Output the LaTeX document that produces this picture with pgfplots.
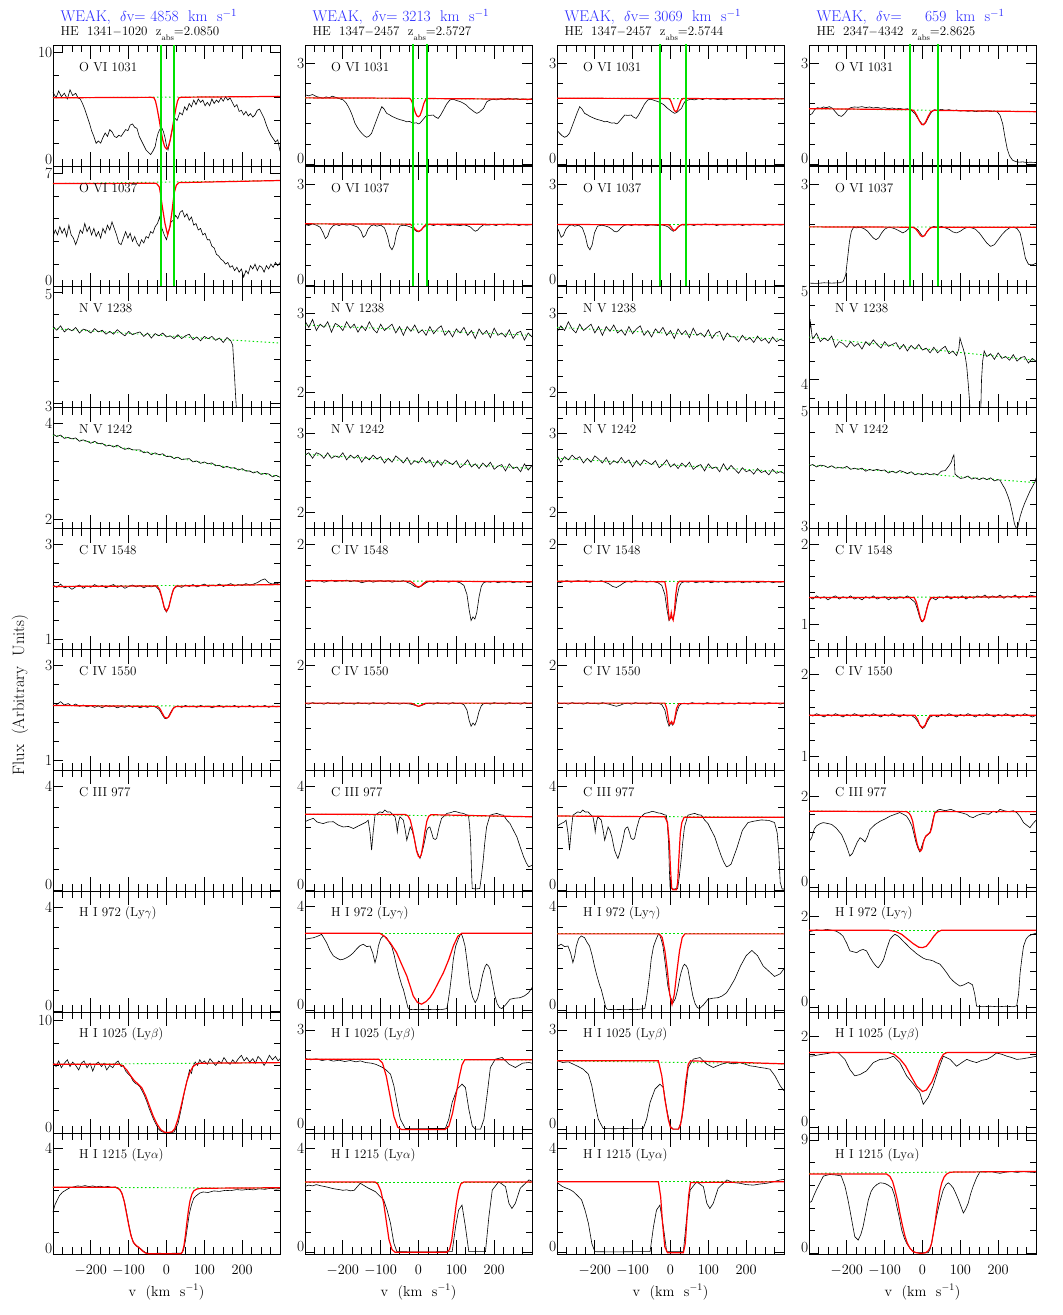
\documentclass[border=0pt]{standalone}
\usepackage{pgfplots}
\pgfplotsset{compat=1.18}
\definecolor{fitred}{RGB}{255,0,0}
\definecolor{cgreen}{RGB}{0,225,0}
\definecolor{tblue}{RGB}{40,40,255}
\newcommand{\tl}{\fontsize{15.5}{15.5}\selectfont}
\newcommand{\lab}[1]{\node[anchor=west,font=\fontsize{13}{13}\selectfont] at (rel axis cs:0.1,0.82) {#1};}
\pgfplotsset{
 pan/.style={scale only axis, width=227pt, height=120.9pt, anchor=south west,
   xmin=-300, xmax=300, xtick={-200,-100,0,100,200},
   minor xtick={-275,-250,-225,-175,-150,-125,-75,-50,-25,25,50,75,125,150,175,225,250,275},
   xticklabels={}, tick align=inside,
   axis line style={line width=0.8pt},
   tick style={black, line width=0.7pt},
   xtick style={/pgfplots/major tick length=14pt, /pgfplots/minor tick length=7pt},
   ytick style={/pgfplots/major tick length=10pt, /pgfplots/minor tick length=6pt},
   yticklabel style={font=\tl, inner sep=0.5pt},
   xticklabel style={font=\tl, yshift=-8pt},
 },
 bs/.style={extra y tick style={yticklabel style={yshift=6pt}}},
 spec/.style={black, line width=0.6pt, mark=none},
 fit/.style={fitred, line width=1.2pt, mark=none},
 cont/.style={cgreen, line width=0.9pt, dash pattern=on 1.5pt off 2.5pt, mark=none},
 vl/.style={cgreen, line width=1.7pt, mark=none},
 bot/.style={xticklabels={$-200$,$-100$,$0$,$100$,$200$}},
}
\newcommand{\ttl}[3]{\node[anchor=west,text=tblue,font=\fontsize{15.5}{15.5}\selectfont] at (#1pt,-16.7pt) {WEAK,\ \ $\delta$v=\ #2\ \ km\ \ s$^{-1}$};
\node[anchor=west,font=\fontsize{13}{13}\selectfont] at (#1pt,-33.3pt) {#3};}
\begin{document}
\begin{tikzpicture}
\useasboundingbox (0,0) rectangle (1063pt,-1315pt);
% titles
\ttl{57}{4858}{HE\ \ 1341$-$1020\ \ z\raisebox{-5pt}{\fontsize{8}{8}\selectfont abs}=2.0850}
\ttl{309}{3213}{HE\ \ 1347$-$2457\ \ z\raisebox{-5pt}{\fontsize{8}{8}\selectfont abs}=2.5727}
\ttl{561}{3069}{HE\ \ 1347$-$2457\ \ z\raisebox{-5pt}{\fontsize{8}{8}\selectfont abs}=2.5744}
\ttl{813}{\ \ \ \ 659}{HE\ \ 2347$-$4342\ \ z\raisebox{-5pt}{\fontsize{8}{8}\selectfont abs}=2.8625}
\node[rotate=90,font=\fontsize{16.5}{16.5}\selectfont] at (20pt,-695pt) {Flux\ \ (Arbitrary\ \ Units)};
\foreach \xc in {166.5,418.5,670.5,922.5}{\node[font=\fontsize{14.5}{14.5}\selectfont] at (\xc pt,-1292pt) {v\ \ (km\ \ s$^{-1}$)};}

%%%%%%%%%%%%%%%%%%%% COLUMN 1 %%%%%%%%%%%%%%%%%%%%
\begin{axis}[pan, at={(53pt,-165.9pt)}, bs, ymin=0, ymax=10.65, ytick={10}, yticklabels={10}, minor ytick={2,4,6,8}, extra y ticks={0}, extra y tick labels={0}]
\addplot[cont] coordinates {(-300,6.0)(300,6.12)};
\addplot[spec] coordinates {(-300,6.5)(-292,6.0)(-285,6.6)(-278,6.1)(-270,6.4)(-262,5.9)(-255,6.7)(-248,6.2)(-240,6.4)(-234,6.0)(-228,5.9)(-222,5.5)(-216,5.0)(-210,4.4)(-204,3.8)(-198,3.1)(-192,2.6)(-186,2.0)(-180,2.2)(-174,2.0)(-168,2.5)(-162,2.9)(-156,2.6)(-150,3.2)(-144,3.0)(-138,2.6)(-132,2.5)(-126,2.7)(-120,2.6)(-114,2.9)(-108,3.2)(-102,3.1)(-96,3.6)(-90,3.7)(-84,3.4)(-78,3.3)(-72,2.6)(-66,2.2)(-60,1.8)(-54,1.4)(-48,1.2)(-42,1.0)(-36,1.3)(-30,1.7)(-26,2.4)(-22,2.9)(-18,3.2)(-13,3.4)(-8,3.0)(-4,2.5)(0,1.8)(4,1.4)(8,2.0)(13,2.9)(18,3.6)(22,4.2)(28,4.0)(35,4.7)(42,4.5)(48,5.2)(54,4.9)(60,5.5)(66,5.2)(72,5.8)(78,5.4)(84,5.9)(90,5.6)(96,5.8)(102,5.3)(108,5.6)(114,5.3)(120,5.9)(126,5.5)(132,5.8)(138,5.6)(144,6.0)(150,5.7)(156,6.1)(162,5.8)(168,6.0)(174,5.6)(180,5.2)(186,5.4)(192,4.8)(198,4.9)(204,4.5)(210,4.8)(216,4.4)(222,4.6)(228,4.3)(234,4.5)(240,4.9)(246,5.0)(252,4.6)(258,4.2)(264,3.6)(270,3.1)(276,2.7)(282,2.4)(288,2.1)(294,2.3)(300,1.3)};
\addplot[fit] coordinates {(-300,6.0)(-40,6.04)(-33,6.0)(-29,5.7)(-25,5.1)(-20,4.2)(-15,3.2)(-10,2.3)(-5,1.7)(0,1.5)(5,1.7)(10,2.3)(15,3.2)(20,4.2)(25,5.1)(29,5.7)(33,6.0)(40,6.05)(300,6.12)};
\addplot[vl] coordinates {(-15,-5)(-15,20)};
\addplot[vl] coordinates {(19,-5)(19,20)};
\lab{O VI 1031}
\end{axis}

\begin{axis}[pan, at={(53pt,-286.8pt)}, bs, ymin=0, ymax=7.45, ytick={7}, yticklabels={7}, minor ytick={1.4,2.8,4.2,5.6}, extra y ticks={0}, extra y tick labels={0}]
\addplot[cont] coordinates {(-300,6.36)(300,6.55)};
\addplot[spec] coordinates {(-300,3.1)(-294,3.5)(-288,3.2)(-282,3.7)(-276,3.3)(-270,3.6)(-264,3.1)(-258,3.8)(-252,3.2)(-246,3.0)(-240,2.6)(-234,3.0)(-228,3.5)(-222,3.3)(-216,3.9)(-210,3.4)(-204,3.7)(-198,3.2)(-192,3.6)(-186,3.1)(-180,3.4)(-174,3.0)(-168,3.6)(-162,3.3)(-156,3.8)(-150,3.5)(-144,4.0)(-138,3.6)(-132,3.2)(-126,2.7)(-120,2.6)(-114,3.0)(-108,3.4)(-102,3.0)(-96,3.3)(-90,2.8)(-84,3.1)(-78,2.7)(-72,2.5)(-66,2.9)(-60,2.7)(-54,3.1)(-48,3.0)(-42,3.4)(-36,3.3)(-30,3.7)(-24,3.9)(-18,4.3)(-12,3.6)(-6,3.2)(0,2.9)(4,3.3)(8,3.6)(12,4.0)(18,4.1)(24,4.4)(30,4.2)(36,4.6)(42,4.7)(48,4.3)(54,4.5)(60,4.1)(66,4.3)(72,3.8)(78,3.9)(84,3.5)(90,3.6)(96,3.2)(102,3.3)(108,2.9)(114,2.9)(120,2.5)(126,2.4)(132,2.0)(138,1.9)(144,1.7)(150,1.6)(156,1.4)(162,1.5)(168,1.2)(174,1.3)(180,1.0)(186,1.2)(192,0.9)(198,1.1)(204,0.6)(210,1.0)(216,0.8)(222,1.3)(228,1.1)(234,1.4)(240,1.0)(246,1.3)(252,1.2)(258,0.9)(264,1.3)(270,1.1)(276,1.4)(282,1.2)(288,1.5)(294,1.3)(300,1.5)};
\addplot[fit] coordinates {(-300,6.36)(-30,6.38)(-26,6.36)(-19,6.15)(-16,5.75)(-11,4.93)(-4,3.9)(3,3.2)(9,3.7)(15,4.72)(20,5.75)(26,6.26)(33,6.42)(300,6.55)};
\addplot[vl] coordinates {(-15,-5)(-15,20)};
\addplot[vl] coordinates {(19,-5)(19,20)};
\lab{O VI 1037}
\end{axis}

\begin{axis}[pan, at={(53pt,-407.7pt)}, ymin=2.93, ymax=5.1, ytick={5}, yticklabels={5}, yticklabel style={yshift=-2.5pt}, minor ytick={3.4,3.8,4.2,4.6}, extra y ticks={3}, extra y tick labels={3}]
\addplot[cont] coordinates {(-300,4.35)(300,4.09)};
\addplot[spec] coordinates {(-300,4.39)(-290,4.32)(-280,4.40)(-270,4.29)(-260,4.35)(-250,4.31)(-240,4.37)(-230,4.27)(-220,4.34)(-210,4.32)(-200,4.27)(-190,4.35)(-180,4.29)(-170,4.32)(-160,4.25)(-150,4.30)(-140,4.25)(-130,4.33)(-120,4.27)(-110,4.22)(-100,4.30)(-90,4.24)(-80,4.27)(-70,4.29)(-60,4.21)(-50,4.27)(-40,4.18)(-30,4.26)(-20,4.22)(-10,4.27)(0,4.20)(10,4.22)(20,4.17)(30,4.24)(40,4.17)(50,4.22)(60,4.25)(70,4.15)(80,4.20)(90,4.13)(100,4.21)(110,4.17)(120,4.21)(130,4.14)(140,4.18)(150,4.10)(160,4.19)(170,4.13)(175,4.05)(179,3.6)(183,3.1)(187,2.7)(300,2.6)};
\lab{N V 1238}
\end{axis}

\begin{axis}[pan, at={(53pt,-528.6pt)}, ymin=1.8, ymax=4.32, ytick={4}, yticklabels={4}, minor ytick={2.4,2.8,3.2,3.6}, extra y ticks={2}, extra y tick labels={2}]
\addplot[cont] coordinates {(-300,3.75)(300,2.88)};
\addplot[spec] coordinates {(-300,3.77)(-290,3.72)(-280,3.75)(-270,3.68)(-260,3.70)(-250,3.67)(-240,3.69)(-230,3.62)(-220,3.65)(-210,3.62)(-200,3.58)(-190,3.62)(-180,3.57)(-170,3.58)(-160,3.52)(-150,3.54)(-140,3.50)(-130,3.54)(-120,3.49)(-110,3.45)(-100,3.48)(-90,3.44)(-80,3.44)(-70,3.44)(-60,3.38)(-50,3.40)(-40,3.34)(-30,3.38)(-20,3.34)(-10,3.36)(0,3.30)(10,3.31)(20,3.26)(30,3.29)(40,3.24)(50,3.25)(60,3.26)(70,3.19)(80,3.21)(90,3.16)(100,3.19)(110,3.15)(120,3.17)(130,3.11)(140,3.12)(150,3.07)(160,3.10)(170,3.06)(180,3.07)(190,3.02)(200,3.05)(210,3.00)(220,3.00)(230,2.96)(240,2.99)(250,2.93)(260,2.95)(270,2.94)(280,2.88)(290,2.91)(300,2.87)};
\lab{N V 1242}
\end{axis}

\begin{axis}[pan, at={(53pt,-649.5pt)}, ymin=0.79, ymax=3.34, ytick={3}, yticklabels={3}, minor ytick={1.4,1.8,2.2,2.6}, extra y ticks={1}, extra y tick labels={1}]
\addplot[cont] coordinates {(-300,2.12)(300,2.16)};
\addplot[spec] coordinates {(-300,2.15)(-290,2.10)(-280,2.17)(-270,2.09)(-260,2.12)(-250,2.06)(-240,2.11)(-230,2.15)(-220,2.08)(-210,2.13)(-200,2.10)(-190,2.16)(-180,2.11)(-170,2.14)(-160,2.09)(-150,2.13)(-140,2.16)(-130,2.10)(-120,2.14)(-110,2.08)(-100,2.12)(-90,2.15)(-80,2.11)(-70,2.14)(-60,2.09)(-50,2.13)(-40,2.11)(-30,2.14)(-20,2.05)(-15,1.95)(-10,1.80)(-5,1.64)(0,1.58)(5,1.66)(10,1.82)(15,1.98)(20,2.08)(30,2.13)(40,2.10)(50,2.15)(60,2.12)(70,2.16)(80,2.11)(90,2.14)(100,2.17)(110,2.12)(120,2.15)(130,2.13)(140,2.17)(150,2.12)(160,2.15)(170,2.18)(180,2.13)(190,2.16)(200,2.14)(210,2.18)(220,2.15)(230,2.17)(240,2.20)(250,2.25)(260,2.28)(270,2.20)(280,2.17)(290,2.19)(300,2.16)};
\addplot[fit] coordinates {(-300,2.12)(-25,2.13)(-18,2.05)(-12,1.88)(-6,1.68)(0,1.6)(6,1.68)(12,1.88)(18,2.05)(25,2.13)(300,2.16)};
\lab{C IV 1548}
\end{axis}

\begin{axis}[pan, at={(53pt,-770.4pt)}, ymin=0.79, ymax=3.34, ytick={3}, yticklabels={3}, minor ytick={1.4,1.8,2.2,2.6}, extra y ticks={1}, extra y tick labels={1}]
\addplot[cont] coordinates {(-300,2.16)(300,2.14)};
\addplot[spec] coordinates {(-300,2.22)(-290,2.18)(-280,2.24)(-270,2.17)(-260,2.20)(-250,2.15)(-240,2.19)(-230,2.14)(-220,2.17)(-210,2.13)(-200,2.16)(-190,2.12)(-180,2.15)(-170,2.11)(-160,2.16)(-150,2.13)(-140,2.15)(-130,2.11)(-120,2.14)(-110,2.12)(-100,2.16)(-90,2.12)(-80,2.15)(-70,2.11)(-60,2.14)(-50,2.12)(-40,2.15)(-30,2.13)(-20,2.08)(-15,2.02)(-10,1.95)(-5,1.89)(0,1.88)(5,1.92)(10,2.0)(15,2.07)(20,2.12)(30,2.15)(40,2.12)(50,2.16)(60,2.13)(70,2.15)(80,2.12)(90,2.16)(100,2.13)(110,2.15)(120,2.11)(130,2.14)(140,2.16)(150,2.12)(160,2.15)(170,2.13)(180,2.16)(190,2.12)(200,2.15)(210,2.13)(220,2.16)(230,2.12)(240,2.15)(250,2.13)(260,2.16)(270,2.12)(280,2.15)(290,2.13)(300,2.14)};
\addplot[fit] coordinates {(-300,2.16)(-25,2.14)(-18,2.1)(-12,2.01)(-6,1.92)(0,1.89)(6,1.92)(12,2.01)(18,2.1)(25,2.14)(300,2.14)};
\lab{C IV 1550}
\end{axis}

\begin{axis}[pan, at={(53pt,-891.3pt)}, bs, ymin=-0.04, ymax=4.6, ytick={4}, yticklabels={4}, minor ytick={0.8,1.6,2.4,3.2}, extra y ticks={0}, extra y tick labels={0}]
\addplot[draw=none] coordinates {(0,1)};
\lab{C III 977}
\end{axis}

\begin{axis}[pan, at={(53pt,-1012.2pt)}, bs, ymin=-0.04, ymax=4.6, ytick={4}, yticklabels={4}, minor ytick={0.8,1.6,2.4,3.2}, extra y ticks={0}, extra y tick labels={0}]
\addplot[draw=none] coordinates {(0,1)};
\lab{H I 972 (Ly$\gamma$)}
\end{axis}

\begin{axis}[pan, at={(53pt,-1133.1pt)}, bs, ymin=0, ymax=10.72, ytick={10}, yticklabels={10}, minor ytick={2,4,6,8}, extra y ticks={0}, extra y tick labels={0}]
\addplot[cont] coordinates {(-300,6.1)(300,6.25)};
\addplot[spec] coordinates {(-300,6.3)(-292,5.9)(-285,6.4)(-278,5.8)(-270,6.2)(-262,6.5)(-255,5.9)(-248,6.3)(-240,6.0)(-232,5.6)(-225,6.2)(-218,6.4)(-210,5.8)(-202,6.2)(-195,5.5)(-188,6.1)(-180,6.3)(-172,5.9)(-165,6.2)(-158,5.6)(-150,6.0)(-142,5.8)(-135,6.2)(-128,6.4)(-120,5.9)(-114,6.0)(-108,5.5)(-100,5.2)(-94,5.0)(-88,4.6)(-82,4.4)(-76,4.3)(-70,4.1)(-64,3.7)(-58,3.3)(-52,2.8)(-46,2.2)(-40,1.7)(-34,1.2)(-28,0.8)(-22,0.4)(-16,0.2)(-10,0.1)(-4,0.05)(2,0.05)(8,0.05)(14,0.05)(20,0.1)(26,0.5)(31,0.9)(36,1.7)(41,2.5)(46,3.4)(51,4.2)(56,4.9)(61,5.6)(66,5.3)(70,5.9)(76,6.3)(82,6.0)(88,6.5)(94,6.2)(100,6.4)(108,6.1)(115,6.6)(122,6.3)(130,6.0)(138,6.4)(145,6.2)(152,6.7)(160,6.3)(168,6.1)(175,6.5)(182,6.2)(190,6.6)(198,6.9)(205,6.4)(212,6.7)(220,6.3)(228,6.6)(235,6.2)(242,6.8)(250,6.5)(258,6.0)(265,6.4)(272,6.9)(280,6.5)(288,6.8)(295,6.4)(300,6.6)};
\addplot[fit] coordinates {(-300,6.1)(-125,6.1)(-115,5.95)(-105,5.6)(-95,5.1)(-85,4.65)(-75,4.35)(-65,4.0)(-55,3.3)(-45,2.4)(-35,1.5)(-25,0.8)(-15,0.3)(-5,0.08)(5,0.05)(15,0.12)(22,0.4)(30,1.2)(38,2.3)(46,3.5)(54,4.6)(62,5.4)(70,5.9)(80,6.15)(90,6.2)(300,6.25)};
\lab{H I 1025 (Ly$\beta$)}
\end{axis}

\begin{axis}[pan, bot, at={(53pt,-1254pt)}, bs, ymin=0, ymax=4.56, ytick={4}, yticklabels={4}, minor ytick={0.8,1.6,2.4,3.2}, extra y ticks={0}, extra y tick labels={0}]
\addplot[cont] coordinates {(-300,2.52)(300,2.48)};
\addplot[spec] coordinates {(-300,1.57)(-295,1.85)(-290,2.0)(-283,2.2)(-275,2.33)(-265,2.42)(-255,2.50)(-245,2.53)(-235,2.57)(-225,2.55)(-215,2.58)(-205,2.54)(-195,2.57)(-185,2.53)(-175,2.56)(-165,2.52)(-155,2.55)(-145,2.51)(-135,2.53)(-128,2.47)(-122,2.42)(-116,2.2)(-110,1.9)(-104,1.45)(-98,0.99)(-92,0.62)(-86,0.4)(-80,0.3)(-74,0.25)(-68,0.2)(-62,0.12)(-56,0.06)(-50,0.03)(-40,0.02)(-20,0.03)(0,0.02)(20,0.03)(40,0.03)(45,0.15)(50,0.5)(55,1.0)(60,1.5)(66,1.85)(72,2.1)(79,2.2)(88,2.3)(97,2.34)(110,2.32)(125,2.38)(140,2.36)(155,2.40)(170,2.39)(185,2.43)(200,2.41)(215,2.44)(230,2.42)(245,2.46)(260,2.44)(275,2.48)(290,2.45)(300,2.47)};
\addplot[fit] coordinates {(-300,2.52)(-135,2.52)(-125,2.45)(-118,2.3)(-112,2.0)(-106,1.55)(-100,1.1)(-94,0.7)(-88,0.45)(-80,0.32)(-72,0.24)(-64,0.12)(-56,0.04)(-48,0.01)(38,0.01)(42,0.08)(46,0.3)(50,0.7)(54,1.2)(58,1.65)(62,2.0)(67,2.25)(72,2.38)(80,2.45)(92,2.48)(300,2.5)};
\lab{H I 1215 (Ly$\alpha$)}
\end{axis}

%%%%%%%%%%%%%%%%%%%% COLUMN 2 %%%%%%%%%%%%%%%%%%%%
\begin{axis}[pan, at={(305pt,-165.9pt)}, bs, ymin=-0.05, ymax=3.54, ytick={3}, yticklabels={3}, minor ytick={0.6,1.2,1.8,2.4}, extra y ticks={0}, extra y tick labels={0}]
\addplot[cont] coordinates {(-300,1.97)(300,1.93)};
\addplot[spec] coordinates {(-300,2.06)(-290,2.03)(-280,2.07)(-270,2.01)(-260,1.98)(-252,1.96)(-244,2.0)(-236,1.97)(-228,2.02)(-220,1.99)(-212,1.96)(-205,1.93)(-199,1.91)(-192,1.83)(-186,1.72)(-181,1.61)(-175,1.45)(-168,1.22)(-162,1.1)(-156,1.0)(-150,0.92)(-144,0.85)(-137,0.8)(-130,0.84)(-124,0.92)(-118,1.1)(-111,1.31)(-104,1.52)(-97,1.71)(-91,1.64)(-84,1.51)(-77,1.47)(-70,1.42)(-64,1.39)(-58,1.36)(-51,1.33)(-44,1.31)(-38,1.29)(-31,1.26)(-24,1.27)(-18,1.24)(-12,1.22)(-6,1.23)(0,1.2)(4,1.22)(10,1.3)(16,1.38)(22,1.46)(30,1.45)(39,1.46)(45,1.4)(52,1.36)(58,1.45)(66,1.61)(74,1.78)(83,1.91)(92,1.93)(101,1.89)(110,1.86)(119,1.81)(126,1.76)(133,1.68)(141,1.61)(148,1.55)(154,1.51)(160,1.54)(166,1.6)(172,1.66)(177,1.78)(181,1.86)(188,1.9)(196,1.93)(207,1.91)(218,1.95)(228,1.92)(238,1.96)(248,1.93)(258,1.95)(268,1.92)(278,1.94)(288,1.91)(300,1.95)};
\addplot[fit] coordinates {(-300,1.97)(-24,1.96)(-19,1.9)(-14,1.75)(-9,1.55)(-4,1.43)(0,1.41)(4,1.45)(9,1.6)(14,1.8)(19,1.92)(24,1.95)(300,1.93)};
\addplot[vl] coordinates {(-14,-5)(-14,20)};
\addplot[vl] coordinates {(22,-5)(22,20)};
\lab{O VI 1031}
\end{axis}

\begin{axis}[pan, at={(305pt,-286.8pt)}, bs, ymin=-0.05, ymax=3.54, ytick={3}, yticklabels={3}, minor ytick={0.6,1.2,1.8,2.4}, extra y ticks={0}, extra y tick labels={0}]
\addplot[cont] coordinates {(-300,1.82)(300,1.80)};
\addplot[spec] coordinates {(-300,1.80)(-290,1.77)(-280,1.82)(-270,1.78)(-260,1.72)(-252,1.55)(-246,1.38)(-240,1.45)(-234,1.65)(-226,1.76)(-218,1.80)(-210,1.77)(-200,1.81)(-190,1.78)(-180,1.80)(-170,1.76)(-160,1.72)(-152,1.60)(-146,1.42)(-140,1.48)(-134,1.65)(-126,1.76)(-118,1.79)(-110,1.75)(-100,1.78)(-90,1.70)(-82,1.45)(-76,1.15)(-70,1.05)(-64,1.2)(-58,1.55)(-50,1.75)(-40,1.78)(-30,1.76)(-20,1.72)(-12,1.66)(-6,1.6)(0,1.58)(6,1.62)(12,1.7)(20,1.77)(30,1.80)(40,1.77)(50,1.81)(60,1.78)(70,1.80)(80,1.76)(90,1.79)(100,1.78)(110,1.77)(120,1.79)(130,1.76)(138,1.72)(145,1.64)(150,1.6)(156,1.63)(163,1.72)(172,1.79)(185,1.78)(195,1.80)(205,1.77)(215,1.81)(225,1.78)(235,1.82)(245,1.79)(255,1.81)(265,1.77)(275,1.80)(285,1.78)(300,1.80)};
\addplot[fit] coordinates {(-300,1.82)(-22,1.81)(-15,1.75)(-9,1.66)(-3,1.61)(2,1.6)(8,1.65)(14,1.74)(20,1.8)(26,1.81)(300,1.80)};
\addplot[vl] coordinates {(-14,-5)(-14,20)};
\addplot[vl] coordinates {(22,-5)(22,20)};
\lab{O VI 1037}
\end{axis}

\begin{axis}[pan, at={(305pt,-407.7pt)}, ymin=1.81, ymax=3.33, ytick={3}, yticklabels={3}, minor ytick={2.2,2.4,2.6,2.8,3.2}, extra y ticks={2}, extra y tick labels={2}]
\addplot[cont] coordinates {(-300,2.85)(300,2.72)};
\addplot[spec] coordinates {(-300,2.90)(-290,2.82)(-280,2.92)(-270,2.78)(-260,2.86)(-250,2.82)(-240,2.89)(-230,2.76)(-220,2.87)(-210,2.84)(-200,2.78)(-190,2.89)(-180,2.81)(-170,2.86)(-160,2.76)(-150,2.84)(-140,2.78)(-130,2.89)(-120,2.80)(-110,2.75)(-100,2.86)(-90,2.78)(-80,2.82)(-70,2.86)(-60,2.75)(-50,2.83)(-40,2.72)(-30,2.83)(-20,2.77)(-10,2.85)(0,2.75)(10,2.79)(20,2.72)(30,2.83)(40,2.74)(50,2.80)(60,2.84)(70,2.72)(80,2.78)(90,2.70)(100,2.80)(110,2.75)(120,2.82)(130,2.72)(140,2.78)(150,2.68)(160,2.80)(170,2.73)(180,2.78)(190,2.69)(200,2.81)(210,2.72)(220,2.75)(230,2.70)(240,2.79)(250,2.68)(260,2.75)(270,2.77)(280,2.66)(290,2.75)(300,2.70)};
\lab{N V 1238}
\end{axis}

\begin{axis}[pan, at={(305pt,-528.6pt)}, ymin=1.8, ymax=3.33, ytick={3}, yticklabels={3}, minor ytick={2.2,2.4,2.6,2.8,3.2}, extra y ticks={2}, extra y tick labels={2}]
\addplot[cont] coordinates {(-300,2.74)(300,2.56)};
\addplot[spec] coordinates {(-300,2.73)(-290,2.76)(-280,2.69)(-270,2.76)(-260,2.74)(-250,2.69)(-240,2.76)(-230,2.69)(-220,2.72)(-210,2.70)(-200,2.76)(-190,2.67)(-180,2.73)(-170,2.69)(-160,2.73)(-150,2.64)(-140,2.71)(-130,2.67)(-120,2.73)(-110,2.68)(-100,2.71)(-90,2.63)(-80,2.69)(-70,2.64)(-60,2.72)(-50,2.68)(-40,2.63)(-30,2.70)(-20,2.61)(-10,2.66)(0,2.63)(10,2.70)(20,2.63)(30,2.67)(40,2.58)(50,2.66)(60,2.60)(70,2.67)(80,2.64)(90,2.61)(100,2.66)(110,2.57)(120,2.61)(130,2.67)(140,2.58)(150,2.62)(160,2.56)(170,2.63)(180,2.58)(190,2.64)(200,2.55)(210,2.59)(220,2.61)(230,2.53)(240,2.62)(250,2.56)(260,2.58)(270,2.52)(280,2.62)(290,2.54)(300,2.60)};
\lab{N V 1242}
\end{axis}

\begin{axis}[pan, at={(305pt,-649.5pt)}, ymin=0, ymax=2.3, ytick={2}, yticklabels={2}, minor ytick={0.4,0.8,1.2,1.6}]
\addplot[cont] coordinates {(-300,1.31)(300,1.29)};
\addplot[spec] coordinates {(-300,1.31)(-290,1.29)(-280,1.32)(-270,1.30)(-260,1.31)(-250,1.28)(-240,1.30)(-230,1.32)(-220,1.29)(-210,1.31)(-200,1.30)(-190,1.32)(-180,1.29)(-170,1.31)(-160,1.30)(-150,1.27)(-140,1.29)(-130,1.31)(-120,1.28)(-110,1.30)(-100,1.31)(-90,1.29)(-80,1.31)(-70,1.28)(-60,1.30)(-50,1.29)(-40,1.31)(-30,1.28)(-20,1.25)(-10,1.2)(0,1.18)(10,1.22)(20,1.27)(30,1.30)(40,1.28)(50,1.31)(60,1.29)(70,1.30)(80,1.28)(90,1.30)(100,1.29)(110,1.27)(120,1.22)(128,1.05)(134,0.75)(139,0.55)(144,0.62)(149,0.58)(154,0.7)(160,1.0)(166,1.2)(172,1.27)(180,1.29)(190,1.28)(200,1.30)(210,1.27)(220,1.29)(230,1.28)(240,1.30)(250,1.27)(260,1.29)(270,1.28)(280,1.30)(290,1.27)(300,1.29)};
\addplot[fit] coordinates {(-300,1.31)(-22,1.3)(-14,1.26)(-7,1.21)(0,1.19)(7,1.21)(14,1.26)(22,1.3)(300,1.29)};
\lab{C IV 1548}
\end{axis}

\begin{axis}[pan, at={(305pt,-770.4pt)}, ymin=0, ymax=2.3, ytick={2}, yticklabels={2}, minor ytick={0.4,0.8,1.2,1.6}]
\addplot[cont] coordinates {(-300,1.28)(300,1.28)};
\addplot[spec] coordinates {(-300,1.28)(-290,1.26)(-280,1.29)(-270,1.27)(-260,1.28)(-250,1.26)(-240,1.29)(-230,1.27)(-220,1.28)(-210,1.26)(-200,1.29)(-190,1.27)(-180,1.28)(-170,1.26)(-160,1.29)(-150,1.27)(-140,1.28)(-130,1.26)(-120,1.29)(-110,1.27)(-100,1.28)(-90,1.26)(-80,1.29)(-70,1.27)(-60,1.28)(-50,1.26)(-40,1.28)(-30,1.27)(-20,1.26)(-10,1.24)(0,1.22)(10,1.24)(20,1.27)(30,1.28)(40,1.26)(50,1.29)(60,1.27)(70,1.28)(80,1.26)(90,1.29)(100,1.27)(110,1.28)(120,1.25)(128,1.15)(134,0.95)(139,0.84)(144,0.9)(149,0.86)(154,0.95)(160,1.12)(166,1.23)(172,1.27)(180,1.28)(190,1.26)(200,1.29)(210,1.27)(220,1.28)(230,1.26)(240,1.29)(250,1.27)(260,1.28)(270,1.26)(280,1.29)(290,1.27)(300,1.28)};
\addplot[fit] coordinates {(-300,1.28)(-20,1.28)(-12,1.26)(-5,1.23)(0,1.22)(5,1.23)(12,1.26)(20,1.28)(300,1.28)};
\lab{C IV 1550}
\end{axis}

\begin{axis}[pan, at={(305pt,-891.3pt)}, bs, ymin=-0.04, ymax=4.6, ytick={4}, yticklabels={4}, minor ytick={0.8,1.6,2.4,3.2}, extra y ticks={0}, extra y tick labels={0}]
\addplot[cont] coordinates {(-300,2.92)(300,2.82)};
\addplot[spec] coordinates {(-300,2.63)(-290,2.70)(-278,2.76)(-268,2.62)(-258,2.58)(-252,2.56)(-240,2.62)(-225,2.63)(-212,2.5)(-199,2.43)(-185,2.45)(-172,2.37)(-160,2.46)(-146,2.56)(-138,2.62)(-133,2.69)(-128,2.2)(-124,1.54)(-120,2.2)(-115,2.88)(-108,2.95)(-102,3.01)(-95,2.98)(-89,3.08)(-82,3.0)(-75,3.01)(-68,2.9)(-62,2.82)(-58,2.5)(-56,2.24)(-53,2.6)(-49,2.82)(-44,2.75)(-40,2.69)(-35,2.3)(-31,1.92)(-26,2.2)(-22,2.43)(-17,2.3)(-12,2.05)(-8,1.75)(-5,1.54)(0,1.35)(4,1.22)(8,1.4)(13,1.67)(18,2.0)(22,2.31)(26,2.4)(30,2.43)(35,2.2)(39,1.99)(44,1.95)(48,1.99)(54,2.4)(61,2.76)(68,2.85)(75,2.95)(85,2.98)(95,3.03)(101,3.01)(110,2.97)(119,2.95)(126,2.9)(132,2.88)(135,2.5)(138,1.8)(140,0.8)(142,0.07)(150,0.05)(158,0.06)(162,0.07)(166,0.5)(171,1.15)(175,1.8)(180,2.43)(189,2.88)(198,2.92)(207,2.95)(216,2.9)(225,2.88)(233,2.7)(242,2.56)(251,2.3)(260,2.05)(269,1.65)(278,1.28)(285,1.05)(291,0.9)(296,0.93)(300,0.96)};
\addplot[fit] coordinates {(-300,2.92)(-35,2.91)(-28,2.86)(-22,2.7)(-16,2.35)(-10,1.9)(-5,1.5)(0,1.3)(3,1.27)(7,1.35)(12,1.75)(17,2.25)(22,2.65)(27,2.84)(33,2.9)(300,2.82)};
\lab{C III 977}
\end{axis}

\begin{axis}[pan, at={(305pt,-1012.2pt)}, bs, ymin=-0.08, ymax=4.58, ytick={4}, yticklabels={4}, minor ytick={0.8,1.6,2.4,3.2}, extra y ticks={0}, extra y tick labels={0}]
\addplot[cont] coordinates {(-300,2.96)(300,2.96)};
\addplot[spec] coordinates {(-300,2.73)(-290,2.76)(-278,2.79)(-268,2.84)(-256,2.92)(-249,2.75)(-243,2.6)(-234,2.3)(-225,2.09)(-215,2.0)(-207,1.94)(-199,1.96)(-190,2.02)(-182,2.09)(-173,2.2)(-164,2.35)(-155,2.48)(-146,2.54)(-137,2.45)(-128,2.47)(-121,2.2)(-115,1.83)(-110,2.1)(-106,2.47)(-100,2.75)(-93,2.86)(-84,2.79)(-77,2.6)(-71,2.47)(-64,2.1)(-58,1.7)(-51,1.3)(-44,0.95)(-40,0.8)(-34,0.45)(-28,0.1)(-24,0.03)(-15,0.02)(0,0.03)(20,0.02)(40,0.03)(60,0.02)(75,0.06)(79,0.4)(83,0.81)(88,1.4)(92,1.96)(98,2.45)(105,2.73)(110,2.9)(114,2.92)(118,2.75)(123,2.47)(129,1.8)(136,0.93)(143,0.5)(150,0.29)(156,0.45)(162,0.8)(167,1.2)(171,1.45)(176,1.68)(180,1.77)(185,1.7)(189,1.58)(195,1.1)(202,0.55)(208,0.25)(214,0.1)(220,0.06)(230,0.2)(242,0.42)(255,0.46)(269,0.48)(280,0.55)(291,0.67)(300,0.87)};
\addplot[fit] coordinates {(-300,2.96)(-102,2.96)(-90,2.85)(-75,2.6)(-58,2.22)(-45,1.78)(-31,1.32)(-22,0.92)(-14,0.55)(-3,0.3)(8,0.23)(20,0.33)(30,0.48)(39,0.68)(52,1.05)(66,1.45)(80,1.95)(92,2.47)(104,2.85)(114,2.96)(300,2.96)};
\lab{H I 972 (Ly$\gamma$)}
\end{axis}

\begin{axis}[pan, at={(305pt,-1133.1pt)}, bs, ymin=-0.1, ymax=3.53, ytick={3}, yticklabels={3}, minor ytick={0.6,1.2,1.8,2.4}, extra y ticks={0}, extra y tick labels={0}]
\addplot[cont] coordinates {(-300,2.12)(300,2.1)};
\addplot[spec] coordinates {(-300,2.14)(-285,2.10)(-270,2.13)(-255,2.08)(-240,2.11)(-225,2.06)(-210,2.09)(-195,2.05)(-180,2.08)(-165,2.04)(-154,2.07)(-140,2.02)(-125,2.0)(-114,1.97)(-100,1.9)(-88,1.82)(-74,1.67)(-65,1.32)(-57,0.82)(-48,0.32)(-35,0.04)(0,0.03)(40,0.04)(71,0.04)(80,0.32)(89,0.82)(102,1.22)(115,1.37)(124,1.27)(133,0.62)(142,0.12)(150,0.02)(164,0.02)(173,0.32)(181,1.02)(190,1.87)(203,2.12)(221,2.17)(239,1.97)(256,1.87)(275,2.0)(292,2.02)(300,2.0)};
\addplot[fit] coordinates {(-300,2.12)(-105,2.12)(-95,2.0)(-85,1.6)(-75,1.0)(-65,0.4)(-55,0.08)(-45,0.01)(70,0.01)(80,0.1)(90,0.5)(100,1.1)(108,1.6)(115,1.95)(122,2.1)(300,2.1)};
\lab{H I 1025 (Ly$\beta$)}
\end{axis}

\begin{axis}[pan, bot, at={(305pt,-1254pt)}, bs, ymin=-0.05, ymax=4.6, ytick={4}, yticklabels={4}, minor ytick={0.8,1.6,2.4,3.2}, extra y ticks={0}, extra y tick labels={0}]
\addplot[cont] coordinates {(-300,2.72)(300,2.72)};
\addplot[spec] coordinates {(-300,2.55)(-290,2.6)(-280,2.57)(-270,2.62)(-260,2.58)(-250,2.55)(-240,2.52)(-230,2.48)(-220,2.45)(-210,2.43)(-200,2.40)(-190,2.42)(-180,2.38)(-170,2.40)(-154,2.67)(-132,2.48)(-114,2.35)(-92,2.03)(-83,1.64)(-74,1.13)(-65,0.36)(-57,0.04)(0,0.03)(89,0.04)(98,1.0)(106,1.64)(115,1.83)(124,1.0)(133,0.04)(177,0.04)(186,1.38)(195,2.41)(212,2.73)(230,2.54)(239,1.9)(247,1.7)(256,1.9)(269,2.48)(292,2.8)(300,2.75)};
\addplot[fit] coordinates {(-300,2.72)(-115,2.72)(-108,2.65)(-100,2.4)(-92,1.9)(-85,1.2)(-78,0.5)(-70,0.12)(-62,0.02)(75,0.02)(82,0.12)(88,0.5)(94,1.2)(100,1.9)(106,2.4)(112,2.65)(120,2.72)(300,2.72)};
\lab{H I 1215 (Ly$\alpha$)}
\end{axis}

%%%%%%%%%%%%%%%%%%%% COLUMN 3 %%%%%%%%%%%%%%%%%%%%
\begin{axis}[pan, at={(557pt,-165.9pt)}, bs, ymin=-0.05, ymax=3.54, ytick={3}, yticklabels={3}, minor ytick={0.6,1.2,1.8,2.4}, extra y ticks={0}, extra y tick labels={0}]
\addplot[cont] coordinates {(-300,1.96)(300,1.94)};
\addplot[spec] coordinates {(-300,1.0)(-293,0.92)(-287,0.85)(-280,0.8)(-273,0.84)(-267,0.92)(-261,1.1)(-254,1.31)(-247,1.52)(-240,1.71)(-234,1.64)(-227,1.51)(-220,1.47)(-213,1.42)(-207,1.39)(-201,1.36)(-194,1.33)(-187,1.31)(-181,1.29)(-174,1.26)(-167,1.27)(-161,1.24)(-155,1.22)(-149,1.23)(-143,1.2)(-139,1.22)(-133,1.3)(-127,1.38)(-121,1.46)(-113,1.45)(-104,1.46)(-98,1.4)(-91,1.36)(-85,1.45)(-77,1.61)(-69,1.78)(-60,1.91)(-51,1.93)(-42,1.89)(-33,1.86)(-24,1.81)(-17,1.76)(-10,1.68)(-2,1.61)(5,1.55)(11,1.51)(17,1.54)(23,1.6)(29,1.66)(34,1.78)(38,1.86)(45,1.9)(53,1.93)(64,1.91)(75,1.95)(85,1.92)(95,1.96)(105,1.93)(115,1.95)(125,1.92)(135,1.94)(145,1.91)(157,1.95)(167,1.92)(177,1.95)(187,1.93)(197,1.96)(207,1.92)(217,1.95)(227,1.93)(237,1.96)(247,1.92)(257,1.95)(267,1.93)(277,1.96)(287,1.94)(300,1.95)};
\addplot[fit] coordinates {(-300,1.96)(-5,1.95)(0,1.9)(5,1.75)(10,1.6)(14,1.56)(18,1.6)(23,1.75)(28,1.9)(33,1.95)(300,1.94)};
\addplot[vl] coordinates {(-28,-5)(-28,20)};
\addplot[vl] coordinates {(41,-5)(41,20)};
\lab{O VI 1031}
\end{axis}

\begin{axis}[pan, at={(557pt,-286.8pt)}, bs, ymin=-0.05, ymax=3.54, ytick={3}, yticklabels={3}, minor ytick={0.6,1.2,1.8,2.4}, extra y ticks={0}, extra y tick labels={0}]
\addplot[cont] coordinates {(-300,1.8)(300,1.8)};
\addplot[spec] coordinates {(-300,1.72)(-295,1.6)(-289,1.42)(-283,1.48)(-277,1.65)(-269,1.76)(-261,1.79)(-253,1.75)(-243,1.78)(-233,1.70)(-225,1.45)(-219,1.15)(-213,1.05)(-207,1.2)(-201,1.55)(-193,1.75)(-183,1.78)(-173,1.76)(-163,1.72)(-155,1.66)(-149,1.6)(-143,1.58)(-137,1.62)(-131,1.7)(-123,1.77)(-113,1.80)(-103,1.77)(-93,1.81)(-83,1.78)(-73,1.80)(-63,1.76)(-53,1.79)(-43,1.78)(-33,1.77)(-23,1.79)(-13,1.76)(-5,1.72)(2,1.64)(7,1.6)(13,1.63)(20,1.72)(29,1.79)(42,1.78)(52,1.80)(62,1.77)(72,1.81)(82,1.78)(92,1.82)(102,1.79)(112,1.81)(122,1.77)(132,1.80)(142,1.78)(157,1.80)(170,1.78)(180,1.81)(190,1.77)(200,1.80)(210,1.78)(220,1.81)(230,1.79)(240,1.80)(250,1.77)(260,1.81)(270,1.78)(280,1.80)(290,1.78)(300,1.80)};
\addplot[fit] coordinates {(-300,1.8)(-5,1.79)(0,1.75)(5,1.67)(9,1.62)(14,1.65)(20,1.73)(26,1.78)(32,1.8)(300,1.8)};
\addplot[vl] coordinates {(-28,-5)(-28,20)};
\addplot[vl] coordinates {(41,-5)(41,20)};
\lab{O VI 1037}
\end{axis}

\begin{axis}[pan, at={(557pt,-407.7pt)}, ymin=1.81, ymax=3.33, ytick={3}, yticklabels={3}, minor ytick={2.2,2.4,2.6,2.8,3.2}, extra y ticks={2}, extra y tick labels={2}]
\addplot[cont] coordinates {(-300,2.82)(300,2.67)};
\addplot[spec] coordinates {(-300,2.76)(-290,2.84)(-280,2.78)(-270,2.89)(-260,2.80)(-250,2.75)(-240,2.86)(-230,2.78)(-220,2.82)(-210,2.86)(-200,2.75)(-190,2.83)(-180,2.72)(-170,2.83)(-160,2.77)(-150,2.85)(-140,2.75)(-130,2.79)(-120,2.72)(-110,2.83)(-100,2.74)(-90,2.80)(-80,2.84)(-70,2.72)(-60,2.78)(-50,2.70)(-40,2.80)(-30,2.75)(-20,2.82)(-10,2.72)(0,2.78)(10,2.68)(20,2.80)(30,2.73)(40,2.78)(50,2.69)(60,2.81)(70,2.72)(80,2.75)(90,2.70)(100,2.79)(110,2.68)(120,2.75)(130,2.77)(140,2.66)(150,2.75)(160,2.70)(170,2.70)(180,2.64)(190,2.72)(200,2.66)(210,2.69)(220,2.63)(230,2.71)(240,2.65)(250,2.68)(260,2.62)(270,2.70)(280,2.64)(290,2.67)(300,2.65)};
\lab{N V 1238}
\end{axis}

\begin{axis}[pan, at={(557pt,-528.6pt)}, ymin=1.8, ymax=3.33, ytick={3}, yticklabels={3}, minor ytick={2.2,2.4,2.6,2.8,3.2}, extra y ticks={2}, extra y tick labels={2}]
\addplot[cont] coordinates {(-300,2.69)(300,2.52)};
\addplot[spec] coordinates {(-300,2.73)(-290,2.64)(-280,2.71)(-270,2.67)(-260,2.73)(-250,2.68)(-240,2.71)(-230,2.63)(-220,2.69)(-210,2.64)(-200,2.72)(-190,2.68)(-180,2.63)(-170,2.70)(-160,2.61)(-150,2.66)(-140,2.63)(-130,2.70)(-120,2.63)(-110,2.67)(-100,2.58)(-90,2.66)(-80,2.60)(-70,2.67)(-60,2.64)(-50,2.61)(-40,2.66)(-30,2.57)(-20,2.61)(-10,2.67)(0,2.58)(10,2.62)(20,2.56)(30,2.63)(40,2.58)(50,2.64)(60,2.55)(70,2.59)(80,2.61)(90,2.53)(100,2.62)(110,2.56)(120,2.58)(130,2.52)(140,2.62)(150,2.54)(160,2.60)(170,2.55)(180,2.50)(190,2.57)(200,2.52)(210,2.54)(220,2.49)(230,2.56)(240,2.51)(250,2.53)(260,2.48)(270,2.55)(280,2.50)(290,2.52)(300,2.50)};
\lab{N V 1242}
\end{axis}

\begin{axis}[pan, at={(557pt,-649.5pt)}, ymin=0, ymax=2.3, ytick={2}, yticklabels={2}, minor ytick={0.4,0.8,1.2,1.6}]
\addplot[cont] coordinates {(-300,1.3)(300,1.29)};
\addplot[spec] coordinates {(-300,1.29)(-293,1.27)(-283,1.29)(-273,1.31)(-263,1.28)(-253,1.30)(-243,1.31)(-233,1.29)(-223,1.31)(-213,1.28)(-203,1.30)(-193,1.29)(-183,1.31)(-173,1.28)(-163,1.25)(-153,1.2)(-143,1.18)(-133,1.22)(-123,1.27)(-113,1.30)(-103,1.28)(-93,1.31)(-83,1.29)(-73,1.30)(-63,1.28)(-53,1.30)(-43,1.29)(-33,1.27)(-23,1.22)(-15,1.05)(-9,0.75)(-4,0.55)(1,0.62)(6,0.58)(11,0.7)(17,1.0)(23,1.2)(29,1.27)(37,1.29)(47,1.28)(57,1.30)(67,1.27)(77,1.29)(87,1.28)(97,1.30)(107,1.27)(117,1.29)(127,1.28)(137,1.30)(147,1.27)(157,1.29)(170,1.28)(180,1.30)(190,1.27)(200,1.29)(210,1.28)(220,1.30)(230,1.27)(240,1.29)(250,1.28)(260,1.30)(270,1.27)(280,1.29)(290,1.28)(300,1.30)};
\addplot[fit] coordinates {(-300,1.3)(-15,1.29)(-10,1.1)(-6,0.75)(-3,0.57)(0,0.6)(2,0.7)(4,0.62)(7,0.56)(10,0.7)(14,1.05)(18,1.25)(24,1.3)(300,1.29)};
\lab{C IV 1548}
\end{axis}

\begin{axis}[pan, at={(557pt,-770.4pt)}, ymin=0, ymax=2.3, ytick={2}, yticklabels={2}, minor ytick={0.4,0.8,1.2,1.6}]
\addplot[cont] coordinates {(-300,1.28)(300,1.28)};
\addplot[spec] coordinates {(-300,1.29)(-290,1.27)(-280,1.28)(-270,1.26)(-260,1.29)(-250,1.27)(-240,1.28)(-230,1.26)(-220,1.29)(-210,1.27)(-200,1.28)(-190,1.26)(-180,1.29)(-170,1.27)(-163,1.26)(-153,1.24)(-143,1.22)(-133,1.24)(-123,1.27)(-113,1.28)(-103,1.26)(-93,1.29)(-83,1.27)(-73,1.28)(-63,1.26)(-53,1.29)(-43,1.27)(-33,1.28)(-23,1.25)(-15,1.15)(-9,0.95)(-4,0.84)(1,0.9)(6,0.86)(11,0.95)(17,1.12)(23,1.23)(29,1.27)(37,1.28)(47,1.26)(57,1.29)(67,1.27)(77,1.28)(87,1.26)(97,1.29)(107,1.27)(117,1.28)(127,1.26)(137,1.29)(147,1.27)(157,1.28)(170,1.26)(180,1.29)(190,1.27)(200,1.28)(210,1.26)(220,1.29)(230,1.27)(240,1.28)(250,1.26)(260,1.29)(270,1.27)(280,1.28)(290,1.26)(300,1.28)};
\addplot[fit] coordinates {(-300,1.28)(-15,1.28)(-10,1.18)(-6,1.0)(-3,0.88)(0,0.9)(3,0.93)(6,0.88)(9,0.9)(12,1.02)(16,1.18)(22,1.27)(300,1.28)};
\lab{C IV 1550}
\end{axis}

\begin{axis}[pan, at={(557pt,-891.3pt)}, bs, ymin=-0.04, ymax=4.6, ytick={4}, yticklabels={4}, minor ytick={0.8,1.6,2.4,3.2}, extra y ticks={0}, extra y tick labels={0}]
\addplot[cont] coordinates {(-300,2.85)(300,2.8)};
\addplot[spec] coordinates {(-300,2.46)(-289,2.56)(-281,2.62)(-276,2.69)(-271,2.2)(-267,1.54)(-263,2.2)(-258,2.88)(-251,2.95)(-245,3.01)(-238,2.98)(-232,3.08)(-225,3.0)(-218,3.01)(-211,2.9)(-205,2.82)(-201,2.5)(-199,2.24)(-196,2.6)(-192,2.82)(-187,2.75)(-183,2.69)(-178,2.3)(-174,1.92)(-169,2.2)(-165,2.43)(-160,2.3)(-155,2.05)(-151,1.75)(-148,1.54)(-143,1.35)(-139,1.22)(-135,1.4)(-130,1.67)(-125,2.0)(-121,2.31)(-117,2.4)(-113,2.43)(-108,2.2)(-104,1.99)(-99,1.95)(-95,1.99)(-89,2.4)(-82,2.76)(-75,2.85)(-68,2.95)(-58,2.98)(-48,3.03)(-42,3.01)(-33,2.97)(-24,2.95)(-17,2.9)(-11,2.88)(-8,2.5)(-5,1.8)(-3,0.8)(-1,0.07)(7,0.05)(15,0.06)(19,0.07)(23,0.5)(28,1.15)(32,1.8)(37,2.43)(46,2.88)(55,2.92)(64,2.95)(73,2.9)(82,2.88)(90,2.7)(99,2.56)(108,2.3)(117,2.05)(126,1.65)(135,1.28)(142,1.05)(148,0.9)(153,0.93)(160,1.0)(175,1.6)(190,2.3)(205,2.6)(220,2.65)(240,2.7)(260,2.68)(275,2.6)(282,2.2)(286,1.5)(290,0.3)(295,0.05)(300,0.05)};
\addplot[fit] coordinates {(-300,2.85)(-15,2.82)(-8,2.6)(-3,1.8)(0,0.8)(3,0.1)(6,0.02)(16,0.02)(19,0.3)(22,1.2)(26,2.2)(30,2.6)(36,2.8)(300,2.8)};
\lab{C III 977}
\end{axis}

\begin{axis}[pan, at={(557pt,-1012.2pt)}, bs, ymin=-0.08, ymax=4.58, ytick={4}, yticklabels={4}, minor ytick={0.8,1.6,2.4,3.2}, extra y ticks={0}, extra y tick labels={0}]
\addplot[cont] coordinates {(-300,2.94)(300,2.94)};
\addplot[spec] coordinates {(-300,2.45)(-289,2.54)(-280,2.45)(-271,2.47)(-264,2.2)(-258,1.83)(-253,2.1)(-249,2.47)(-243,2.75)(-236,2.86)(-227,2.79)(-220,2.6)(-214,2.47)(-207,2.1)(-201,1.7)(-194,1.3)(-187,0.95)(-183,0.8)(-177,0.45)(-171,0.1)(-167,0.03)(-150,0.02)(-120,0.03)(-90,0.02)(-68,0.06)(-64,0.4)(-60,0.81)(-55,1.4)(-51,1.96)(-45,2.45)(-38,2.73)(-33,2.9)(-29,2.92)(-25,2.75)(-20,2.47)(-14,1.8)(-7,0.93)(0,0.5)(7,0.29)(13,0.45)(19,0.8)(24,1.2)(28,1.45)(33,1.68)(37,1.77)(42,1.7)(46,1.58)(52,1.1)(59,0.55)(65,0.25)(71,0.1)(77,0.06)(87,0.2)(99,0.42)(112,0.46)(126,0.48)(137,0.55)(148,0.67)(157,0.87)(170,1.2)(185,1.7)(200,2.1)(215,2.3)(230,2.1)(245,1.7)(260,1.5)(275,1.3)(290,1.4)(300,1.6)};
\addplot[fit] coordinates {(-300,2.94)(-30,2.94)(-22,2.8)(-15,2.3)(-8,1.5)(-2,0.6)(4,0.22)(10,0.6)(17,1.5)(24,2.3)(31,2.8)(38,2.94)(300,2.94)};
\lab{H I 972 (Ly$\gamma$)}
\end{axis}

\begin{axis}[pan, at={(557pt,-1133.1pt)}, bs, ymin=-0.1, ymax=3.53, ytick={3}, yticklabels={3}, minor ytick={0.6,1.2,1.8,2.4}, extra y ticks={0}, extra y tick labels={0}]
\addplot[cont] coordinates {(-300,2.07)(300,1.98)};
\addplot[spec] coordinates {(-297,2.07)(-285,2.02)(-270,2.04)(-257,1.97)(-244,1.9)(-231,1.82)(-217,1.67)(-208,1.32)(-200,0.82)(-191,0.32)(-178,0.04)(-150,0.03)(-120,0.04)(-90,0.03)(-72,0.04)(-63,0.32)(-54,0.82)(-41,1.22)(-28,1.37)(-19,1.27)(-10,0.62)(-1,0.12)(7,0.02)(21,0.02)(30,0.32)(38,1.02)(47,1.87)(60,2.12)(78,2.17)(96,1.97)(113,1.87)(130,1.95)(149,2.02)(166,1.98)(184,2.02)(197,1.97)(210,1.92)(224,1.9)(237,1.87)(250,1.85)(263,1.82)(276,1.62)(290,1.32)(300,1.17)};
\addplot[fit] coordinates {(-300,2.07)(-32,2.07)(-23,1.62)(-15,0.92)(-6,0.32)(0,0.07)(7,0.02)(21,0.02)(27,0.17)(34,0.72)(40,1.42)(47,1.97)(53,2.07)(300,1.98)};
\lab{H I 1025 (Ly$\beta$)}
\end{axis}

\begin{axis}[pan, bot, at={(557pt,-1254pt)}, bs, ymin=-0.05, ymax=4.6, ytick={4}, yticklabels={4}, minor ytick={0.8,1.6,2.4,3.2}, extra y ticks={0}, extra y tick labels={0}]
\addplot[cont] coordinates {(-300,2.73)(300,2.73)};
\addplot[spec] coordinates {(-297,2.67)(-286,2.55)(-275,2.48)(-266,2.43)(-257,2.35)(-246,2.2)(-235,2.03)(-226,1.64)(-217,1.13)(-208,0.36)(-200,0.04)(-150,0.03)(-100,0.04)(-54,0.04)(-45,1.0)(-37,1.64)(-28,1.83)(-19,1.0)(-10,0.04)(34,0.04)(43,1.38)(52,2.41)(69,2.73)(87,2.54)(96,1.9)(104,1.7)(113,1.9)(126,2.48)(149,2.8)(165,2.7)(184,2.67)(200,2.62)(219,2.6)(235,2.64)(254,2.67)(270,2.72)(290,2.8)(300,2.82)};
\addplot[fit] coordinates {(-300,2.73)(-32,2.73)(-26,2.15)(-21,1.13)(-15,0.23)(-8,0.0)(34,0.0)(39,0.35)(43,1.2)(48,2.2)(53,2.7)(300,2.73)};
\lab{H I 1215 (Ly$\alpha$)}
\end{axis}

%%%%%%%%%%%%%%%%%%%% COLUMN 4 %%%%%%%%%%%%%%%%%%%%
\begin{axis}[pan, at={(809pt,-165.9pt)}, bs, ymin=-0.05, ymax=3.54, ytick={3}, yticklabels={3}, minor ytick={0.6,1.2,1.8,2.4}, extra y ticks={0}, extra y tick labels={0}]
\addplot[cont] coordinates {(-300,1.65)(300,1.56)};
\addplot[spec] coordinates {(-300,1.45)(-292,1.5)(-285,1.62)(-278,1.68)(-270,1.66)(-262,1.7)(-254,1.68)(-246,1.71)(-238,1.66)(-230,1.55)(-222,1.45)(-214,1.42)(-206,1.5)(-198,1.62)(-190,1.68)(-180,1.7)(-170,1.69)(-160,1.71)(-150,1.68)(-140,1.70)(-130,1.67)(-120,1.69)(-110,1.66)(-100,1.68)(-90,1.65)(-80,1.67)(-70,1.64)(-60,1.66)(-50,1.63)(-40,1.65)(-30,1.6)(-20,1.5)(-10,1.32)(0,1.18)(8,1.22)(16,1.4)(24,1.55)(32,1.62)(40,1.6)(50,1.63)(60,1.6)(70,1.62)(80,1.59)(90,1.61)(100,1.58)(110,1.6)(120,1.57)(130,1.59)(140,1.56)(150,1.58)(160,1.57)(170,1.59)(180,1.56)(190,1.58)(198,1.55)(205,1.45)(212,1.2)(218,0.8)(224,0.45)(230,0.25)(238,0.12)(246,0.08)(255,0.06)(265,0.07)(275,0.05)(285,0.06)(300,0.05)};
\addplot[fit] coordinates {(-300,1.65)(-30,1.62)(-22,1.58)(-15,1.45)(-8,1.28)(-2,1.18)(3,1.17)(8,1.25)(15,1.42)(22,1.56)(30,1.6)(300,1.56)};
\addplot[vl] coordinates {(-33,-5)(-33,20)};
\addplot[vl] coordinates {(41,-5)(41,20)};
\lab{O VI 1031}
\end{axis}

\begin{axis}[pan, at={(809pt,-286.8pt)}, ymin=-0.05, ymax=3.54, ytick={3}, yticklabels={3}, minor ytick={0.6,1.2,1.8,2.4}]
\addplot[cont] coordinates {(-300,1.73)(300,1.72)};
\addplot[spec] coordinates {(-300,0.06)(-280,0.05)(-260,0.07)(-240,0.06)(-220,0.07)(-210,0.1)(-203,0.3)(-198,0.8)(-193,1.3)(-188,1.6)(-182,1.72)(-175,1.7)(-165,1.72)(-155,1.68)(-145,1.6)(-138,1.5)(-130,1.4)(-123,1.35)(-116,1.4)(-108,1.55)(-100,1.66)(-90,1.72)(-80,1.7)(-70,1.66)(-60,1.6)(-52,1.55)(-44,1.6)(-36,1.68)(-28,1.72)(-20,1.7)(-12,1.64)(-6,1.55)(0,1.45)(6,1.47)(12,1.6)(20,1.7)(30,1.74)(40,1.72)(50,1.74)(60,1.7)(70,1.66)(80,1.58)(90,1.55)(100,1.6)(110,1.68)(120,1.72)(130,1.7)(140,1.66)(150,1.55)(160,1.4)(170,1.25)(180,1.15)(190,1.2)(200,1.35)(210,1.5)(220,1.62)(230,1.7)(240,1.72)(250,1.68)(258,1.55)(265,1.2)(272,0.8)(280,0.62)(290,0.6)(300,0.65)};
\addplot[fit] coordinates {(-300,1.73)(-25,1.72)(-18,1.67)(-11,1.57)(-5,1.47)(0,1.44)(5,1.47)(11,1.57)(18,1.67)(25,1.72)(300,1.72)};
\addplot[vl] coordinates {(-33,-5)(-33,20)};
\addplot[vl] coordinates {(41,-5)(41,20)};
\lab{O VI 1037}
\end{axis}

\begin{axis}[pan, at={(809pt,-407.7pt)}, ymin=3.7, ymax=5.0, ytick={5}, yticklabels={5}, yticklabel style={yshift=-5pt}, minor ytick={3.8,4.2,4.4,4.6,4.8}, extra y ticks={4}, extra y tick labels={4}]
\addplot[cont] coordinates {(-300,4.46)(300,4.21)};
\addplot[spec] coordinates {(-300,4.45)(-296,4.62)(-292,4.47)(-290,4.44)(-280,4.50)(-270,4.41)(-260,4.45)(-250,4.42)(-240,4.47)(-230,4.35)(-220,4.41)(-210,4.39)(-200,4.35)(-190,4.41)(-180,4.36)(-170,4.39)(-160,4.33)(-150,4.41)(-140,4.37)(-130,4.43)(-120,4.38)(-110,4.34)(-100,4.41)(-90,4.36)(-80,4.38)(-70,4.40)(-60,4.33)(-50,4.38)(-40,4.31)(-30,4.37)(-20,4.33)(-10,4.38)(0,4.32)(10,4.34)(20,4.29)(30,4.35)(40,4.29)(50,4.33)(60,4.36)(70,4.28)(80,4.31)(90,4.26)(96,4.33)(99,4.45)(104,4.38)(108,4.33)(113,4.25)(117,4.14)(121,3.95)(124,3.79)(128,3.5)(153,3.5)(156,4.0)(159,4.2)(163,4.31)(170,4.25)(180,4.28)(190,4.22)(200,4.29)(210,4.23)(220,4.25)(230,4.21)(240,4.27)(250,4.20)(260,4.24)(270,4.25)(280,4.18)(290,4.23)(300,4.20)};
\lab{N V 1238}
\end{axis}

\begin{axis}[pan, at={(809pt,-528.6pt)}, ymin=3, ymax=5, ytick={5}, yticklabels={5}, yticklabel style={yshift=-4pt}, minor ytick={3.4,3.8,4.2,4.6}, bs, extra y ticks={3}, extra y tick labels={3}]
\addplot[cont] coordinates {(-300,4.05)(300,3.76)};
\addplot[spec] coordinates {(-300,4.04)(-290,4.06)(-280,4.02)(-270,4.05)(-260,4.04)(-250,4.01)(-240,4.04)(-230,4.00)(-220,4.01)(-210,4.00)(-200,4.03)(-190,3.98)(-180,4.00)(-170,3.98)(-160,4.00)(-150,3.95)(-140,3.98)(-130,3.96)(-120,3.98)(-110,3.96)(-100,3.97)(-90,3.92)(-80,3.95)(-70,3.92)(-60,3.96)(-50,3.94)(-40,3.91)(-30,3.94)(-20,3.89)(-10,3.91)(0,3.89)(10,3.92)(20,3.89)(30,3.91)(40,3.89)(50,3.95)(60,3.96)(70,4.04)(76,4.10)(80,4.18)(83,4.22)(86,3.90)(90,3.88)(100,3.83)(110,3.84)(120,3.87)(130,3.82)(140,3.84)(150,3.81)(160,3.84)(170,3.81)(180,3.84)(190,3.79)(200,3.81)(205,3.80)(212,3.72)(218,3.66)(225,3.55)(231,3.44)(238,3.25)(243,3.08)(247,3.02)(252,3.03)(258,3.2)(264,3.32)(270,3.42)(277,3.52)(284,3.62)(291,3.7)(298,3.78)(300,3.84)};
\lab{N V 1242}
\end{axis}

\begin{axis}[pan, at={(809pt,-649.5pt)}, ymin=0.69, ymax=2.2, ytick={2}, yticklabels={2}, minor ytick={0.8,1.2,1.4,1.6,1.8}, extra y ticks={1}, extra y tick labels={1}]
\addplot[cont] coordinates {(-300,1.34)(300,1.35)};
\addplot[spec] coordinates {(-300,1.35)(-290,1.32)(-280,1.36)(-270,1.33)(-260,1.35)(-250,1.31)(-240,1.34)(-230,1.36)(-220,1.32)(-210,1.35)(-200,1.33)(-190,1.36)(-180,1.32)(-170,1.34)(-160,1.31)(-150,1.35)(-140,1.33)(-130,1.36)(-120,1.32)(-110,1.34)(-100,1.35)(-90,1.31)(-80,1.34)(-70,1.32)(-60,1.35)(-50,1.33)(-40,1.36)(-30,1.32)(-20,1.28)(-14,1.2)(-8,1.1)(-3,1.04)(2,1.05)(7,1.12)(12,1.22)(18,1.3)(25,1.34)(35,1.31)(45,1.35)(55,1.33)(65,1.36)(75,1.32)(85,1.35)(95,1.33)(105,1.36)(115,1.32)(125,1.35)(135,1.33)(145,1.36)(155,1.34)(165,1.37)(175,1.33)(185,1.36)(195,1.34)(205,1.37)(215,1.33)(225,1.36)(235,1.34)(245,1.37)(255,1.33)(265,1.36)(275,1.34)(285,1.37)(300,1.35)};
\addplot[fit] coordinates {(-300,1.34)(-22,1.34)(-16,1.28)(-10,1.17)(-5,1.07)(0,1.04)(5,1.07)(10,1.17)(16,1.28)(22,1.34)(300,1.35)};
\lab{C IV 1548}
\end{axis}

\begin{axis}[pan, at={(809pt,-770.4pt)}, ymin=0.83, ymax=2.3, ytick={2}, yticklabels={2}, minor ytick={1.2,1.4,1.6,1.8,2.2}, extra y ticks={1}, extra y tick labels={1}]
\addplot[cont] coordinates {(-300,1.5)(300,1.5)};
\addplot[spec] coordinates {(-300,1.51)(-290,1.49)(-280,1.52)(-270,1.50)(-260,1.48)(-250,1.51)(-240,1.49)(-230,1.52)(-220,1.50)(-210,1.48)(-200,1.51)(-190,1.49)(-180,1.52)(-170,1.50)(-160,1.48)(-150,1.51)(-140,1.49)(-130,1.52)(-120,1.50)(-110,1.48)(-100,1.51)(-90,1.49)(-80,1.52)(-70,1.50)(-60,1.48)(-50,1.51)(-40,1.49)(-30,1.5)(-20,1.47)(-12,1.42)(-6,1.37)(0,1.34)(6,1.36)(12,1.42)(20,1.48)(30,1.5)(40,1.48)(50,1.51)(60,1.49)(70,1.52)(80,1.50)(90,1.48)(100,1.51)(110,1.49)(120,1.52)(130,1.50)(140,1.48)(150,1.51)(160,1.49)(170,1.52)(180,1.50)(190,1.48)(200,1.51)(210,1.49)(220,1.52)(230,1.50)(240,1.48)(250,1.51)(260,1.49)(270,1.52)(280,1.50)(290,1.48)(300,1.5)};
\addplot[fit] coordinates {(-300,1.5)(-20,1.5)(-13,1.45)(-7,1.38)(0,1.35)(7,1.38)(13,1.45)(20,1.5)(300,1.5)};
\lab{C IV 1550}
\end{axis}

\begin{axis}[pan, at={(809pt,-891.3pt)}, bs, ymin=-0.08, ymax=2.56, ytick={2}, yticklabels={2}, minor ytick={0.4,0.8,1.2,1.6}, extra y ticks={0}, extra y tick labels={0}]
\addplot[cont] coordinates {(-300,1.67)(300,1.66)};
\addplot[spec] coordinates {(-300,1.0)(-293,1.09)(-286,1.28)(-280,1.35)(-270,1.40)(-262,1.42)(-250,1.40)(-240,1.38)(-228,1.30)(-214,1.16)(-201,0.91)(-192,0.69)(-185,0.75)(-179,0.87)(-172,1.0)(-165,1.09)(-158,1.05)(-152,1.0)(-145,1.12)(-139,1.27)(-125,1.38)(-112,1.45)(-99,1.5)(-86,1.56)(-73,1.6)(-60,1.64)(-50,1.6)(-42,1.56)(-35,1.47)(-28,1.35)(-22,1.15)(-17,0.98)(-12,0.86)(-7,0.78)(-2,0.9)(4,1.05)(9,1.12)(15,1.16)(20,1.22)(24,1.35)(28,1.5)(33,1.64)(40,1.69)(46,1.71)(60,1.68)(75,1.71)(90,1.66)(105,1.63)(117,1.6)(125,1.55)(134,1.53)(145,1.58)(160,1.62)(175,1.6)(187,1.67)(196,1.64)(205,1.71)(215,1.68)(228,1.66)(240,1.68)(249,1.64)(258,1.55)(267,1.42)(276,1.36)(284,1.31)(292,1.4)(302,1.49)};
\addplot[fit] coordinates {(-300,1.67)(-42,1.66)(-36,1.63)(-31,1.57)(-26,1.45)(-22,1.27)(-18,1.1)(-14,0.95)(-9,0.83)(-5,0.8)(-1,0.85)(2,0.98)(6,1.08)(9,1.13)(15,1.17)(20,1.2)(24,1.3)(27,1.42)(30,1.55)(33,1.64)(42,1.66)(300,1.66)};
\lab{C III 977}
\end{axis}

\begin{axis}[pan, at={(809pt,-1012.2pt)}, bs, ymin=-0.1, ymax=2.54, ytick={2}, yticklabels={2}, minor ytick={0.4,0.8,1.2,1.6}, extra y ticks={0}, extra y tick labels={0}]
\addplot[cont] coordinates {(-300,1.69)(300,1.69)};
\addplot[spec] coordinates {(-300,1.66)(-293,1.67)(-280,1.7)(-266,1.68)(-254,1.71)(-240,1.69)(-228,1.67)(-218,1.62)(-210,1.56)(-200,1.4)(-192,1.24)(-183,1.22)(-174,1.2)(-165,1.25)(-157,1.27)(-148,1.24)(-139,1.1)(-130,0.98)(-122,0.9)(-117,0.87)(-110,0.95)(-103,1.05)(-94,1.3)(-86,1.49)(-79,1.56)(-73,1.6)(-66,1.57)(-60,1.53)(-51,1.45)(-42,1.38)(-33,1.3)(-24,1.24)(-16,1.18)(-7,1.13)(2,1.08)(11,1.05)(20,1.04)(28,1.02)(37,0.98)(46,0.95)(55,0.86)(64,0.76)(72,0.66)(81,0.58)(90,0.52)(99,0.47)(110,0.5)(121,0.55)(132,0.5)(138,0.3)(143,0.03)(160,0.02)(180,0.03)(200,0.02)(220,0.03)(240,0.02)(249,0.04)(254,0.3)(258,0.76)(263,1.1)(267,1.34)(274,1.5)(280,1.56)(290,1.6)(302,1.63)};
\addplot[fit] coordinates {(-300,1.69)(-90,1.69)(-70,1.66)(-55,1.6)(-40,1.5)(-25,1.4)(-10,1.32)(0,1.31)(10,1.34)(20,1.44)(30,1.56)(40,1.65)(50,1.69)(300,1.69)};
\lab{H I 972 (Ly$\gamma$)}
\end{axis}

\begin{axis}[pan, at={(809pt,-1133.1pt)}, bs, ymin=-0.12, ymax=2.52, ytick={2}, yticklabels={2}, minor ytick={0.4,0.8,1.2,1.6}, extra y ticks={0}, extra y tick labels={0}]
\addplot[cont] coordinates {(-300,1.64)(300,1.64)};
\addplot[spec] coordinates {(-300,1.56)(-293,1.56)(-280,1.58)(-266,1.6)(-250,1.62)(-236,1.65)(-222,1.63)(-205,1.49)(-192,1.27)(-179,1.13)(-165,1.16)(-148,1.24)(-130,1.42)(-112,1.49)(-95,1.5)(-77,1.56)(-60,1.42)(-42,1.13)(-24,0.95)(-7,0.76)(2,0.51)(15,0.66)(28,0.91)(42,1.27)(55,1.56)(73,1.49)(90,1.34)(104,1.42)(117,1.49)(130,1.45)(143,1.42)(157,1.47)(170,1.49)(183,1.55)(196,1.63)(210,1.6)(223,1.56)(236,1.53)(249,1.49)(262,1.5)(276,1.52)(290,1.54)(302,1.56)};
\addplot[fit] coordinates {(-300,1.64)(-90,1.64)(-75,1.6)(-60,1.5)(-45,1.35)(-30,1.12)(-15,0.9)(0,0.79)(10,0.82)(25,1.0)(35,1.2)(45,1.45)(55,1.6)(65,1.64)(300,1.64)};
\lab{H I 1025 (Ly$\beta$)}
\end{axis}

\begin{axis}[pan, bot, at={(809pt,-1254pt)}, bs, ymin=-0.05, ymax=9.54, ytick={9}, yticklabels={9}, minor ytick={1.8,3.6,5.4,7.2}, extra y ticks={0}, extra y tick labels={0}]
\addplot[cont] coordinates {(-300,6.35)(300,6.5)};
\addplot[spec] coordinates {(-300,4.0)(-293,4.13)(-287,4.6)(-280,5.06)(-271,5.6)(-262,6.13)(-253,6.2)(-245,6.26)(-230,6.22)(-215,6.15)(-205,5.33)(-198,4.4)(-192,3.46)(-185,2.3)(-179,1.33)(-170,1.06)(-163,1.5)(-157,2.13)(-150,3.2)(-143,4.26)(-136,4.9)(-130,5.2)(-121,5.45)(-112,5.6)(-100,5.55)(-90,5.4)(-81,5.2)(-74,4.6)(-68,3.73)(-61,2.8)(-55,1.86)(-48,1.2)(-42,0.8)(-33,0.4)(-24,0.13)(-15,0.06)(-7,0.05)(5,0.05)(15,0.05)(20,0.35)(24,0.8)(30,1.8)(37,2.93)(46,4.1)(55,5.06)(62,5.45)(68,5.6)(74,5.45)(81,5.2)(88,4.75)(95,4.26)(102,3.7)(108,3.2)(114,3.5)(121,4.0)(127,4.7)(134,5.33)(143,6.0)(152,6.48)(165,6.45)(180,6.5)(195,6.4)(205,6.35)(220,6.45)(235,6.5)(250,6.42)(265,6.5)(280,6.45)(294,6.42)(302,6.4)};
\addplot[fit] coordinates {(-300,6.3)(-95,6.3)(-86,6.1)(-79,5.7)(-73,5.06)(-66,4.2)(-60,3.2)(-53,2.2)(-46,1.33)(-40,0.8)(-33,0.4)(-26,0.18)(-20,0.08)(-10,0.02)(-2,0.0)(8,0.05)(15,0.2)(20,0.45)(24,0.8)(28,1.5)(33,2.4)(37,3.3)(42,4.26)(46,5.0)(51,5.6)(57,6.05)(64,6.3)(72,6.42)(81,6.45)(300,6.5)};
\lab{H I 1215 (Ly$\alpha$)}
\end{axis}

\end{tikzpicture}
\end{document}
